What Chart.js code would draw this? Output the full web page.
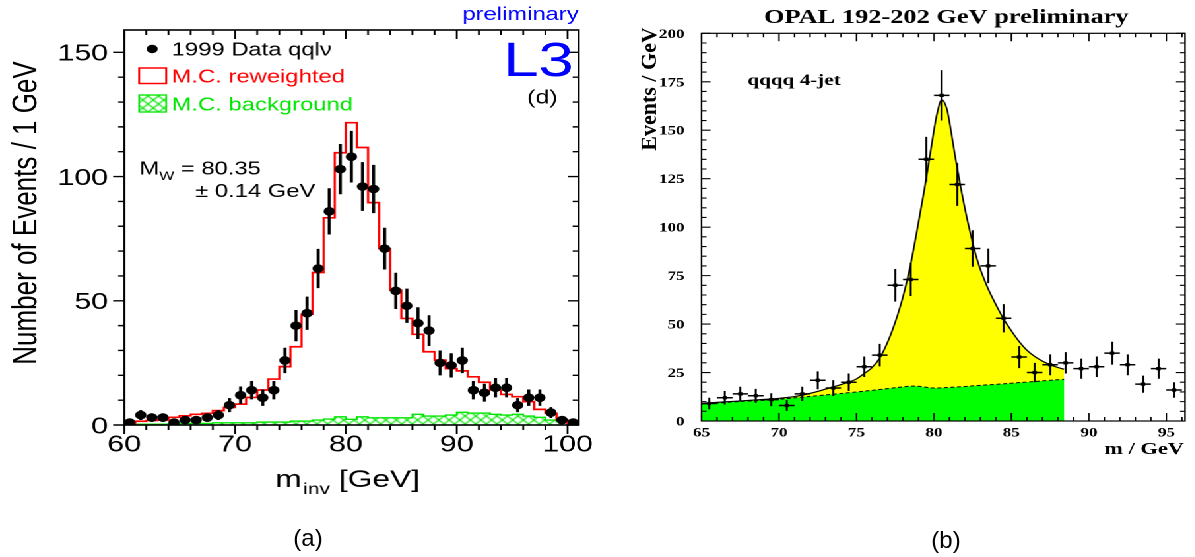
<!DOCTYPE html>
<html><head><meta charset="utf-8">
<script src="https://cdn.jsdelivr.net/npm/chart.js@4.4.1/dist/chart.umd.min.js"></script>
<style>
html,body{margin:0;padding:0;background:#fff;width:1195px;height:557px;overflow:hidden}
#wrap{position:absolute;left:0;top:0;width:905.3px;height:557px;transform:scaleX(1.32);transform-origin:0 0}
#pl{position:absolute;left:0;top:0;width:454.5px;height:557px}
#pr{position:absolute;left:454.5px;top:0;width:450.8px;height:557px}
.cap{position:absolute;font-family:'Liberation Sans',Arial,sans-serif;font-size:24px;color:#000;transform:translate(-50%,-50%);white-space:nowrap}
</style></head><body>
<div id="wrap"><div id="pl"><canvas id="cl"></canvas></div><div id="pr"><canvas id="cr"></canvas></div></div>
<div class="cap" style="left:308px;top:538px">(a)</div>
<div class="cap" style="left:946px;top:540px">(b)</div>
<script>
const S = 1.32; // horizontal stretch of the original figure

// ---------- panel (a): L3 qqlv ----------
const lBinCenters = [60.5,61.5,62.5,63.5,64.5,65.5,66.5,67.5,68.5,69.5,70.5,71.5,72.5,73.5,74.5,75.5,76.5,77.5,78.5,79.5,80.5,81.5,82.5,83.5,84.5,85.5,86.5,87.5,88.5,89.5,90.5,91.5,92.5,93.5,94.5,95.5,96.5,97.5,98.5,99.5,100.5];
const lCounts = [1,4,3,3,1,2,2,3,4,8,12,14,11,14,26,40,45,63,86,103,108,96,95,71,54,48,41,38,25,24,26,14,13,15,15,8,11,11,5,2,1];
const lErrors = [1,2,1.7,1.7,1,1.4,1.4,1.7,2,2.8,3.5,3.7,3.3,3.7,5.1,6.3,6.7,7.9,9.3,10.1,10.4,9.8,9.7,8.4,7.3,6.9,6.4,6.2,5,4.9,5.1,3.7,3.6,3.9,3.9,2.8,3.3,3.3,2.2,1.4,1];
const lBinEdges = [60,61,62,63,64,65,66,67,68,69,70,71,72,73,74,75,76,77,78,79,80,81,82,83,84,85,86,87,88,89,90,91,92,93,94,95,96,97,98,99,100,101];
const lMcReweighted = [0.5,1.5,1.8,2.0,3.1,3.7,4.3,4.7,5.8,7.1,8.4,11.1,14.1,18.5,23.5,31.5,44.6,61.4,83.4,109.6,121.7,111.7,89.5,71.0,54.3,42.9,36.5,29.5,26.1,22.7,21.8,19.4,17.2,14.1,12.3,11.4,9.4,6.3,4.7,2.0,0.4];
const lMcBackground = [0,0.3,0.3,0.3,0.6,0.6,0.6,0.6,0.9,0.9,0.9,0.9,1.2,1.2,1.2,1.6,1.6,2.0,2.4,3.3,2.3,3.3,2.9,2.9,2.9,2.9,4.3,3.6,3.6,4.0,5.1,4.8,4.8,4.3,4.0,4.3,3.6,3.1,2.0,1.3,0.6];
const lXTicks = [60,70,80,90,100];
const lYTicks = [0,50,100,150];

// ---------- panel (b): OPAL qqqq ----------
const rBinCenters = [65.5,66.5,67.5,68.5,69.5,70.5,71.5,72.5,73.5,74.5,75.5,76.5,77.5,78.5,79.5,80.5,81.5,82.5,83.5,84.5,85.5,86.5,87.5,88.5,89.5,90.5,91.5,92.5,93.5,94.5,95.5];
const rCounts = [9,12,14,13,11,8,14,21,17,20,28,34,70,73,135,168,122,89,80,53,33,25,29,30,27,28,35,29,19,27,16];
const rErrors = [3,3.5,3.7,3.6,3.3,2.8,3.7,4.6,4.1,4.5,5.3,5.8,8.4,8.5,11.6,13,11,9.4,8.9,7.3,5.7,5,5.4,5.5,5.2,5.3,5.9,5.4,4.4,5.2,4];
const rFitX = [65,66,67,68,69,70,71,72,73,74,75,75.5,76,76.5,77,77.5,78,78.5,78.9,79.35,79.7,80,80.2,80.5,80.85,81.05,81.4,81.8,82.25,82.8,83.4,84,84.5,85,85.5,86,86.5,87,87.5,88,88.4];
const rFitY = [9.1,9.6,10.1,10.6,11.1,11.7,12.6,14.2,16.4,18.8,21.7,24.5,27.5,32.5,40.5,51,64,81,98,118,135,150,158.5,165.7,160.5,152,135,117.5,100.3,83,70,60,52.6,46.5,41,36.5,33.3,30.9,29.1,27.6,26.7];
const rBgX = [65,67,70,72,74,76,77,78,78.5,79,79.5,80,80.5,81,82,83,84,85,86,87,88,88.4];
const rBgY = [8.8,9.8,11.2,12.7,14.2,15.8,16.7,17.6,18.0,17.9,17.4,17.0,17.1,17.3,17.8,18.4,18.9,19.5,20.1,20.7,21.3,21.5];
const rXTicks = [65,70,75,80,85,90,95];
const rYTicks = [0,25,50,75,100,125,150,175,200];

const SANS = '"Liberation Sans", Arial, sans-serif';
const SERIF = '"Liberation Serif", "Times New Roman", serif';
const GREEN_L = '#00e600';

function hatch(){
  const c=document.createElement('canvas'); c.width=8; c.height=8;
  const g=c.getContext('2d'); g.strokeStyle=GREEN_L; g.lineWidth=1.1;
  g.beginPath(); g.moveTo(0,0); g.lineTo(8,8); g.moveTo(8,0); g.lineTo(0,8); g.stroke();
  return g.createPattern(c,'repeat');
}
const HATCH = hatch();

function txt(ctx, s, x, y, font, color, align){
  ctx.font=font; ctx.fillStyle=color; ctx.textAlign=align||'left'; ctx.textBaseline='alphabetic';
  ctx.fillText(s,x,y);
}

const leftDeco = {
  id:'leftDeco',
  beforeDatasetDraw(chart,args){
    if(args.index!==0) return;
    const {ctx,scales:{x,y}}=chart;
    ctx.save(); ctx.strokeStyle='#000'; ctx.lineWidth=2.3; ctx.beginPath();
    lBinCenters.forEach((c,i)=>{
      const px=x.getPixelForValue(c);
      ctx.moveTo(px,y.getPixelForValue(Math.max(0,lCounts[i]-lErrors[i])));
      ctx.lineTo(px,y.getPixelForValue(lCounts[i]+lErrors[i]));
    });
    ctx.stroke(); ctx.restore();
  },
  afterDraw(chart){
    const {ctx,chartArea:a,scales:{x,y}}=chart;
    ctx.save();
    ctx.strokeStyle='#000'; ctx.lineWidth=1.6;
    ctx.strokeRect(a.left,a.top,a.right-a.left,a.bottom-a.top);
    ctx.lineWidth=1.4; ctx.beginPath();
    for(let v=y.min; v<=y.max; v+=10){
      const py=y.getPixelForValue(v); const L=(v%50===0?11:6)/S;
      ctx.moveTo(a.left-L,py); ctx.lineTo(a.left,py);
      ctx.moveTo(a.right-L,py); ctx.lineTo(a.right,py);
    }
    for(let v=x.min; v<=x.max; v+=2){
      const px=x.getPixelForValue(v); const L=(v%10===0?9:5);
      ctx.moveTo(px,a.bottom); ctx.lineTo(px,a.bottom+L);
      ctx.moveTo(px,a.top); ctx.lineTo(px,a.top+L);
    }
    ctx.stroke();
    // tick labels
    const tf='23px '+SANS;
    lYTicks.forEach(v=>txt(ctx,String(v),108/S,y.getPixelForValue(v)+8.3,tf,'#000','right'));
    lXTicks.forEach(v=>txt(ctx,String(v),x.getPixelForValue(v),451.5,tf,'#000','center'));
    // axis titles
    ctx.save(); ctx.translate(20.5,213); ctx.rotate(-Math.PI/2);
    ctx.font='26px '+SANS; ctx.fillStyle='#000'; ctx.textAlign='center'; ctx.textBaseline='middle';
    ctx.fillText('Number of Events / 1 GeV',0,0); ctx.restore();
    let cx=208.3;
    txt(ctx,'m',cx,487,'24px '+SANS,'#000'); cx+=ctx.measureText('m').width+1;
    txt(ctx,'inv',cx,494,'16px '+SANS,'#000'); cx+=ctx.measureText('inv').width;
    txt(ctx,' [GeV]',cx,487,'24px '+SANS,'#000');
    // legend
    ctx.fillStyle='#000'; ctx.beginPath(); ctx.arc(152/S,49,4.2,0,Math.PI*2); ctx.fill();
    txt(ctx,'1999 Data qqlν',171.5/S,55.5,'18px '+SANS,'#000');
    ctx.strokeStyle='#ff0000'; ctx.lineWidth=1.5; ctx.strokeRect(139/S,68,27/S,15.5);
    txt(ctx,'M.C. reweighted',171.5/S,82.5,'18px '+SANS,'#ff0000');
    ctx.fillStyle=HATCH; ctx.fillRect(139/S,95,27/S,17);
    ctx.strokeStyle=GREEN_L; ctx.lineWidth=1.3; ctx.strokeRect(139/S,95,27/S,17);
    txt(ctx,'M.C. background',171.5/S,110.5,'18px '+SANS,GREEN_L);
    // annotations
    let mx=139.3/S;
    txt(ctx,'M',mx,174.5,'18px '+SANS,'#000'); mx+=ctx.measureText('M').width;
    txt(ctx,'W',mx,180,'12px '+SANS,'#000'); mx+=ctx.measureText('W').width;
    txt(ctx,' = 80.35',mx,174.5,'18px '+SANS,'#000');
    txt(ctx,'± 0.14 GeV',195/S,197,'18px '+SANS,'#000');
    txt(ctx,'preliminary',578/S,20,'18px '+SANS,'#0000ff','right');
    txt(ctx,'L3',573/S,76,'48px '+SANS,'#0000ff','right');
    txt(ctx,'(d)',557/S,103.5,'19px '+SANS,'#000','right');
    ctx.restore();
  }
};

new Chart(document.getElementById('cl'),{
  type:'line',
  data:{datasets:[
    {label:'1999 Data', data:lBinCenters.map((x,i)=>({x,y:lCounts[i]})), showLine:false,
     pointRadius:4.3, pointBackgroundColor:'#000', pointBorderColor:'#000', pointBorderWidth:0, order:0},
    {label:'M.C. reweighted', data:lBinEdges.map((x,i)=>({x,y:lMcReweighted[Math.min(i,lMcReweighted.length-1)]})),
     stepped:true, borderColor:'#ff0000', borderWidth:1.7, pointRadius:0, fill:false, order:1},
    {label:'M.C. background', data:lBinEdges.map((x,i)=>({x,y:lMcBackground[Math.min(i,lMcBackground.length-1)]})),
     stepped:true, borderColor:GREEN_L, borderWidth:1.4, pointRadius:0, fill:'origin', backgroundColor:HATCH, order:2}
  ]},
  options:{responsive:true, maintainAspectRatio:false, animation:false, devicePixelRatio:2,
    layout:{padding:{left:124/S,right:454.5-578/S,top:30,bottom:132}},
    scales:{x:{type:'linear',min:60,max:101,display:false},y:{min:0,max:159,display:false}},
    plugins:{legend:{display:false},tooltip:{enabled:false}}},
  plugins:[leftDeco]
});

const rightDeco = {
  id:'rightDeco',
  beforeDatasetDraw(chart,args){
    if(args.index!==0) return;
    const {ctx,scales:{x,y}}=chart;
    ctx.save(); ctx.strokeStyle='#000'; ctx.lineWidth=1.5; ctx.beginPath();
    rBinCenters.forEach((c,i)=>{
      const px=x.getPixelForValue(c), py=y.getPixelForValue(rCounts[i]);
      ctx.moveTo(x.getPixelForValue(c-0.5),py); ctx.lineTo(x.getPixelForValue(c+0.5),py);
      ctx.moveTo(px,y.getPixelForValue(rCounts[i]-rErrors[i])); ctx.lineTo(px,y.getPixelForValue(rCounts[i]+rErrors[i]));
    });
    ctx.stroke(); ctx.restore();
  },
  afterDraw(chart){
    const {ctx,chartArea:a,scales:{x,y}}=chart;
    ctx.save();
    ctx.strokeStyle='#000'; ctx.lineWidth=1.2;
    ctx.strokeRect(a.left,a.top,a.right-a.left,a.bottom-a.top);
    ctx.lineWidth=1.1; ctx.beginPath();
    for(let v=y.min; v<=y.max; v+=5){
      const py=y.getPixelForValue(v); const L=(v%25===0?9:5)/S;
      ctx.moveTo(a.left,py); ctx.lineTo(a.left+L,py);
      ctx.moveTo(a.right-L,py); ctx.lineTo(a.right,py);
    }
    for(let v=65; v<=x.max; v+=1){
      const px=x.getPixelForValue(v); const L=(v%5===0?8:4);
      ctx.moveTo(px,a.bottom); ctx.lineTo(px,a.bottom-L);
      ctx.moveTo(px,a.top); ctx.lineTo(px,a.top+L);
    }
    ctx.stroke();
    const tf='bold 13px '+SERIF;
    rYTicks.forEach(v=>txt(ctx,String(v),84/S,y.getPixelForValue(v)+4.5,tf,'#000','right'));
    rXTicks.forEach(v=>txt(ctx,String(v),x.getPixelForValue(v),436.5,tf,'#000','center'));
    txt(ctx,'OPAL 192-202 GeV preliminary',346/S,23,'bold 20px '+SERIF,'#000','center');
    txt(ctx,'m / GeV',584/S,454,'bold 17px '+SERIF,'#000','right');
    txt(ctx,'qqqq 4-jet',147/S,85,'bold 16px '+SERIF,'#000','left');
    ctx.save(); ctx.translate(50/S,89); ctx.scale(1/S,1); ctx.rotate(-Math.PI/2);
    ctx.font='bold 22px '+SERIF; ctx.fillStyle='#000'; ctx.textAlign='center'; ctx.textBaseline='middle';
    ctx.fillText('Events / GeV',0,0); ctx.restore();
    ctx.restore();
  }
};

new Chart(document.getElementById('cr'),{
  type:'line',
  data:{datasets:[
    {label:'data', data:rBinCenters.map((x,i)=>({x,y:rCounts[i]})), showLine:false,
     pointStyle:'rect', pointRadius:2.3, pointBackgroundColor:'#000', pointBorderColor:'#000', pointBorderWidth:0, order:0},
    {label:'background', data:rBgX.map((x,i)=>({x,y:rBgY[i]})), borderColor:'#000', borderWidth:1, borderDash:[3,2],
     pointRadius:0, fill:'origin', backgroundColor:'#00ff00', cubicInterpolationMode:'monotone', order:1},
    {label:'fit', data:rFitX.map((x,i)=>({x,y:rFitY[i]})), borderColor:'#000', borderWidth:1.2,
     pointRadius:0, fill:'origin', backgroundColor:'#ffff00', cubicInterpolationMode:'monotone', order:2}
  ]},
  options:{responsive:true, maintainAspectRatio:false, animation:false, devicePixelRatio:2,
    layout:{padding:{left:101/S,right:450.8-585/S,top:33.3,bottom:136}},
    scales:{x:{type:'linear',min:65,max:96.2,display:false},y:{min:0,max:200,display:false}},
    plugins:{legend:{display:false},tooltip:{enabled:false}}},
  plugins:[rightDeco]
});
</script>
</body></html>
